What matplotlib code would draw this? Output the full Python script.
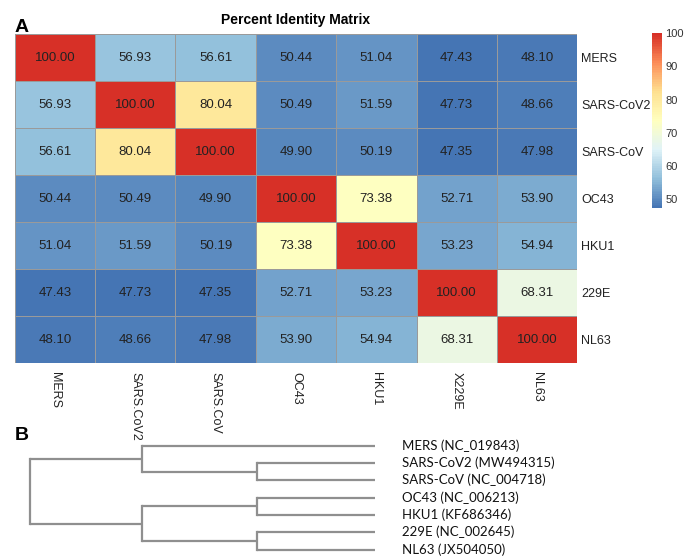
import numpy as np
import matplotlib
matplotlib.use("Agg")
import matplotlib.pyplot as plt
from matplotlib.colors import LinearSegmentedColormap

# DATA ----------------
row_names = ["MERS", "SARS-CoV2", "SARS-CoV", "OC43", "HKU1", "229E", "NL63"]
col_names = ["MERS", "SARS.CoV2", "SARS.CoV", "OC43", "HKU1", "X229E", "NL63"]

identity = np.array([
    [100.00, 56.93, 56.61, 50.44, 51.04, 47.43, 48.10],
    [56.93, 100.00, 80.04, 50.49, 51.59, 47.73, 48.66],
    [56.61, 80.04, 100.00, 49.90, 50.19, 47.35, 47.98],
    [50.44, 50.49, 49.90, 100.00, 73.38, 52.71, 53.90],
    [51.04, 51.59, 50.19, 73.38, 100.00, 53.23, 54.94],
    [47.43, 47.73, 47.35, 52.71, 53.23, 100.00, 68.31],
    [48.10, 48.66, 47.98, 53.90, 54.94, 68.31, 100.00],
])

cbar_ticks = [50, 60, 70, 80, 90, 100]

tree_leaves = ["MERS (NC_019843)", "SARS-CoV2 (MW494315)", "SARS-CoV (NC_004718)",
               "OC43 (NC_006213)", "HKU1 (KF686346)", "229E (NC_002645)", "NL63 (JX504050)"]
# merges: (child a, child b, height); leaves are 0..6, new nodes 7..
tree_merges = [
    (1, 2, 1.00),
    (3, 4, 1.00),
    (5, 6, 1.00),
    (0, 7, 1.97),
    (8, 9, 1.97),
    (10, 11, 2.92),
]

# STYLE ----------------
W, H = 684, 557
PALETTE = ["#4575B4", "#91BFDB", "#E0F3F8", "#FFFFBF", "#FEE090", "#FC8D59", "#D73027"]
cmap = LinearSegmentedColormap.from_list("pheat", PALETTE, N=100)
LINE_GREY = "#8f8f8f"

plt.rcParams["font.family"] = ["Liberation Sans", "DejaVu Sans"]


def px_box(x0, y0, x1, y1):
    '''Pixel box (top-left origin) -> figure fraction rect.'''
    return [x0 / W, 1 - y1 / H, (x1 - x0) / W, (y1 - y0) / H]


fig = plt.figure(figsize=(W / 100, H / 100), dpi=100)

# HEATMAP ----------------
ax = fig.add_axes(px_box(14.7, 34, 577.3, 363.3))
vmin, vmax = identity.min(), identity.max()
mesh = ax.pcolormesh(identity, cmap=cmap, vmin=vmin, vmax=vmax,
                     edgecolors="#9a9a9a", linewidth=0.6)
ax.set_xlim(0, len(col_names))
ax.set_ylim(len(row_names), 0)
for i in range(len(row_names)):
    for j in range(len(col_names)):
        ax.text(j + 0.5, i + 0.5, f"{identity[i, j]:.2f}", ha="center", va="center",
                fontsize=9.5, color="#222222")

ax.yaxis.tick_right()
ax.set_yticks(np.arange(len(row_names)) + 0.5)
ax.set_yticklabels(row_names, fontsize=9, color="#222222")
ax.set_xticks(np.arange(len(col_names)) + 0.5)
ax.set_xticklabels(col_names, fontsize=9, rotation=-90, color="#222222", va="top")
ax.tick_params(length=0)
ax.tick_params(axis="y", pad=3)
ax.tick_params(axis="x", pad=6)
for s in ax.spines.values():
    s.set_visible(False)

fig.text(296 / W, 1 - 20 / H, "Percent Identity Matrix", ha="center", va="center",
         fontsize=10, fontweight="bold")
fig.text(15 / W, 1 - 27 / H, "A", ha="left", va="center", fontsize=14, fontweight="bold")

# COLORBAR ----------------
cax = fig.add_axes(px_box(652, 33.3, 662, 208))
cb = fig.colorbar(mesh, cax=cax, ticks=cbar_ticks)
cb.outline.set_visible(False)
cax.tick_params(length=0, labelsize=8, labelcolor="#333333", pad=2.5)

# DENDROGRAM ----------------
fig.text(15 / W, 1 - 435 / H, "B", ha="left", va="center", fontsize=14, fontweight="bold")

tax = fig.add_axes(px_box(30, 445.5, 375, 549.5))
n = len(tree_leaves)
node_y = {i: float(i) for i in range(n)}
node_h = {i: 0.0 for i in range(n)}
for k, (a, b, h) in enumerate(tree_merges):
    node = n + k
    for c in (a, b):
        tax.plot([node_h[c], h], [node_y[c], node_y[c]], color=LINE_GREY, lw=1.6,
                 clip_on=False, solid_capstyle="butt")
    tax.plot([h, h], [node_y[a], node_y[b]], color=LINE_GREY, lw=1.6,
             clip_on=False, solid_capstyle="projecting")
    node_y[node] = (node_y[a] + node_y[b]) / 2
    node_h[node] = h

tax.set_xlim(tree_merges[-1][2], 0)
tax.set_ylim(n - 1, 0)
tax.axis("off")
for i, lab in enumerate(tree_leaves):
    tax.text(1 + 27 / 345, i, lab, transform=tax.get_yaxis_transform(),
             ha="left", va="center", fontsize=9.5, family=["Lato", "DejaVu Sans"],
             color="#111111")

fig.savefig("out.png", dpi=100)
